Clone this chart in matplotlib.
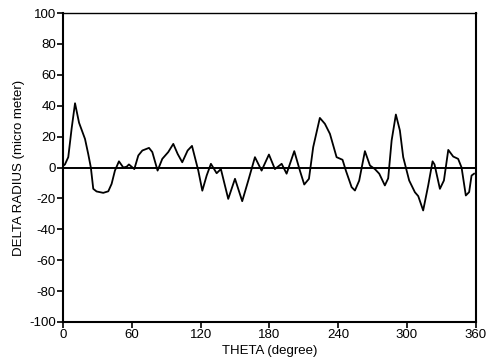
import matplotlib.pyplot as plt

# 半径偏差曲线
theta = [0, 1.7, 4.6, 7.5, 10.5, 14, 19.2, 22, 24.3, 26.4, 29.3, 35.1, 39.5, 42.4, 45.3,
         48.8, 52.6, 55.5, 57.5, 62.2, 65.7, 69.2, 75, 77.9, 82.5, 86.6, 91.8, 96.2,
         100, 104, 108.7, 112.5, 118, 121.5, 125.3, 129, 134, 137.7, 144.1, 150,
         156.3, 161.6, 167.4, 173.2, 179.6, 184.8, 190.7, 195, 201.7, 206.6, 210.4,
         214.5, 218.2, 224, 228.4, 232.8, 238.6, 243.8, 246.7, 251.7, 254.6, 258.3,
         263.3, 267.7, 272, 275.8, 280.7, 283.6, 286.6, 290.3, 293.8, 296.7, 301.9,
         306.9, 309.8, 314.1, 318.5, 322.3, 324, 328.7, 332.2, 336, 340.3, 344.6,
         347.6, 351.3, 354.2, 356.3, 358.5]
delta_r = [1, 2, 6.7, 25, 41.6, 29, 18.5, 8.8, 0, -13.8, -15.5, -16.4, -15.4, -10.6, -2,
           4, 0, 0.5, 2, -1, 7.8, 11, 12.7, 10, -2, 5.6, 10, 15.3,
           8.8, 3.4, 11, 14, -2, -15, -5.2, 2.4, -3.7, -1, -20.3, -7.3,
           -21.8, -8.4, 6.7, -2, 8.4, -1, 2.4, -4, 10.6, -2, -11,
           -7.3, 13.2, 32.1, 28.3, 21.8, 6.7, 5, -2, -12.7, -14.9, -8.5,
           10.6, 1.3, -1, -4, -11.6, -7, 17.5, 34.3, 24, 6.7, -8.4,
           -16, -18.5, -27.8, -11.6, 4, 2, -13.8, -8.4, 11.4, 7.1, 5.6,
           0, -18.1, -15.9, -5.2, -4]

x_ticks = [0, 60, 120, 180, 240, 300, 360]
y_ticks = list(range(-100, 101, 20))

plt.rcParams['font.family'] = ['Liberation Sans', 'DejaVu Sans']
plt.rcParams['axes.unicode_minus'] = False

fig = plt.figure(figsize=(4.86, 3.62), dpi=100)
ax = fig.add_axes([0.1296, 0.1105, 0.8494, 0.8535])

ax.axhline(0, color='black', linewidth=1.4)
ax.plot(theta, delta_r, color='black', linewidth=1.3)

ax.set_xlim(0, 360)
ax.set_ylim(-100, 100)
ax.set_xticks(x_ticks)
ax.set_yticks(y_ticks)
ax.tick_params(direction='out', length=4, width=1.2, labelsize=9.5, pad=1,
               top=False, right=False)
for side in ['left', 'bottom', 'right']:
    ax.spines[side].set_linewidth(1.5)
ax.spines['top'].set_linewidth(1.0)

ax.set_xlabel("THETA (degree)", fontsize=9.5, labelpad=3)
ax.set_ylabel("DELTA RADIUS (micro meter)", fontsize=9.5, labelpad=3)

plt.savefig("out.png", dpi=100)
